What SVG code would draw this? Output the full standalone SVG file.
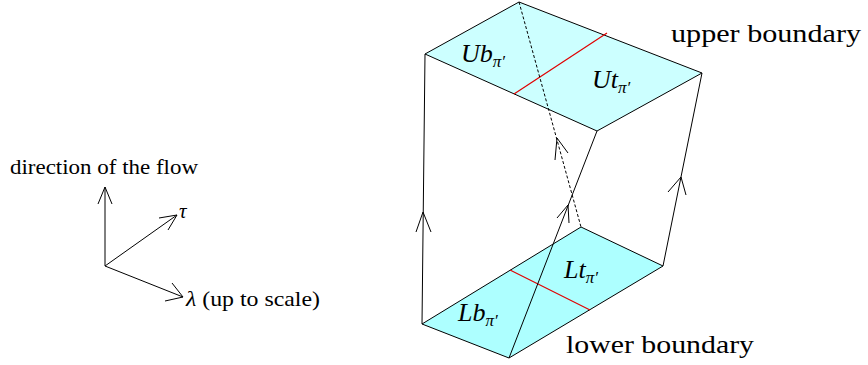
<svg xmlns="http://www.w3.org/2000/svg" width="868" height="365" viewBox="0 0 868 365">
<defs>
<style>
.ln{stroke:#000;stroke-width:1;fill:none}
.ds{stroke:#000;stroke-width:1;fill:none;stroke-dasharray:3,2}
.red{stroke:#e00000;stroke-width:1.2;fill:none}
.ar{stroke:#000;stroke-width:1;fill:none;stroke-linejoin:miter}
.t{font-family:"Liberation Serif","DejaVu Serif",serif;font-size:21px;fill:#000}
.big{font-size:25px}
.lab{font-family:"Liberation Serif","DejaVu Serif",serif;font-style:italic;font-size:26px;fill:#000}
.sub{font-size:17px}
</style>
</defs>
<rect width="868" height="365" fill="#fff"/>
<g id="axes">
<line class="ln" x1="105" y1="266" x2="105" y2="187"/>
<polyline class="ar" points="98,204 105,187 112,204"/>
<line class="ln" x1="105" y1="266" x2="177" y2="215"/>
<polyline class="ar" points="159,218 177,215 168,230"/>
<line class="ln" x1="105" y1="266" x2="183" y2="297"/>
<polyline class="ar" points="172,283 183,297 165,301"/>
<text class="t" x="10" y="174" textLength="188" lengthAdjust="spacingAndGlyphs">direction of the flow</text>
<text class="t" x="179" y="218" font-style="italic">τ</text>
<text class="t" x="186" y="306" textLength="134" lengthAdjust="spacingAndGlyphs"><tspan font-style="italic">λ</tspan> (up to scale)</text>
</g>
<g id="upper-boundary">
<polygon points="519,2 702,73 597,131 425,54" fill="#ccffff" stroke="#000" stroke-width="1"/>
<line class="red" x1="607" y1="33" x2="514" y2="94"/>
<text class="lab" x="461" y="62">Ub<tspan class="sub" dy="5">π′</tspan></text>
<text class="lab" x="592" y="88">Ut<tspan class="sub" dy="5">π′</tspan></text>
<text class="t big" x="671" y="42" textLength="190" lengthAdjust="spacingAndGlyphs">upper boundary</text>
</g>
<g id="lower-boundary">
<polygon points="581,227 663,266 509,358 422,324" fill="#adffff" stroke="#000" stroke-width="1"/>
<line class="red" x1="510" y1="270" x2="590" y2="310"/>
<text class="lab" x="564" y="278">Lt<tspan class="sub" dy="5">π′</tspan></text>
<text class="lab" x="458" y="321">Lb<tspan class="sub" dy="5">π′</tspan></text>
<text class="t big" x="566" y="353" textLength="188" lengthAdjust="spacingAndGlyphs">lower boundary</text>
</g>
<g id="connectors">
<line class="ln" x1="425" y1="54" x2="422" y2="324"/>
<polyline class="ar" points="416,232 423,212 431,232"/>
<line class="ln" x1="702" y1="73" x2="663" y2="266"/>
<polyline class="ar" points="668,192 681,177 686,195"/>
<line class="ln" x1="509" y1="358" x2="597" y2="131"/>
<polyline class="ar" points="557,218 568,205 569,223"/>
<line class="ds" x1="519" y1="2" x2="581" y2="227"/>
<polyline class="ar" points="555,160 557,138 568,153"/>
</g>
</svg>
